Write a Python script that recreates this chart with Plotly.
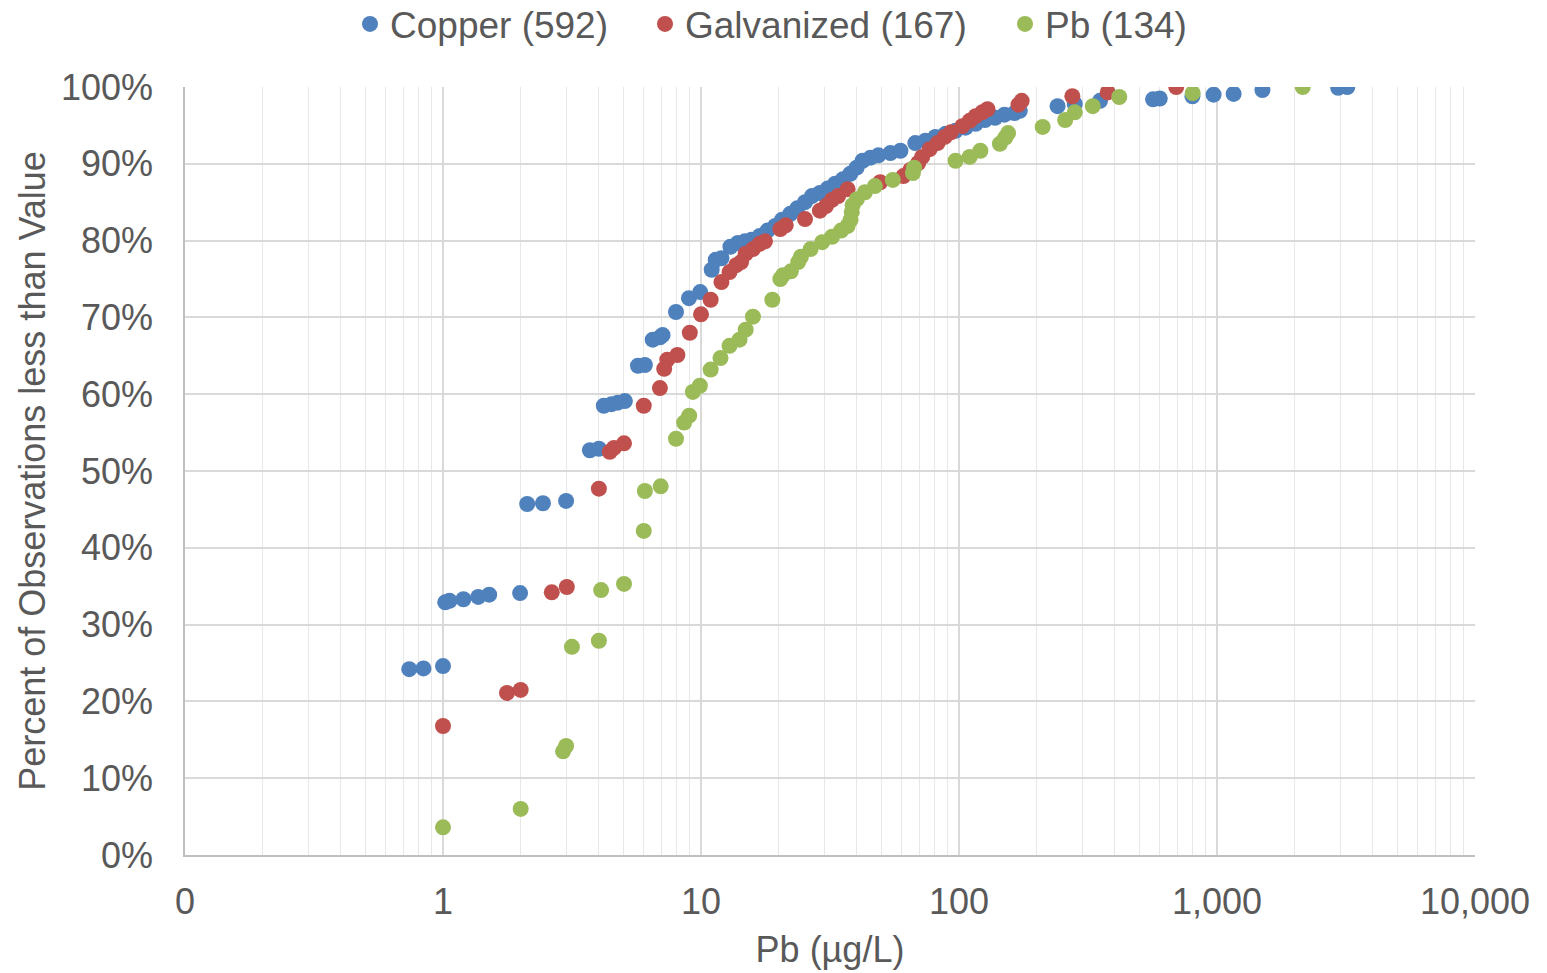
import plotly.graph_objects as go

# Copper series (Pb ug/L, percent of observations less than value)
copper_x = [0.74, 0.84, 1.0, 1.02, 1.06, 1.2, 1.37, 1.51, 1.99, 2.12, 2.44, 3.0, 3.71, 4.02,
            4.2, 4.5, 4.76, 5.07, 5.7, 6.06, 6.5, 6.93, 7.1, 8.0, 8.98, 9.93, 11.0, 11.4, 12.0,
            13.0, 13.9, 14.8, 15.7, 16.9, 18.1, 19.4, 20.6, 22.2, 23.6, 25.3, 26.9, 28.9, 31.0,
            33.1, 35.5, 37.9, 40.1, 42.3, 45.4, 48.7, 54.2, 59.3, 67.7, 74.1, 81.0, 88.7, 97.0,
            106, 116, 126, 138, 150, 164, 172, 241, 281, 352, 565, 600, 803, 970, 1160, 1500,
            2950, 3200]
copper_y = [24.2, 24.3, 24.6, 32.9, 33.1, 33.3, 33.6, 33.9, 34.1, 45.7, 45.8, 46.1, 52.7, 52.9,
            58.5, 58.7, 58.9, 59.1, 63.7, 63.8, 67.1, 67.4, 67.7, 70.7, 72.5, 73.3, 76.2, 77.5, 77.7,
            79.2, 79.7, 79.9, 80.1, 80.6, 81.3, 81.9, 82.7, 83.5, 84.2, 85.0, 85.8, 86.2, 86.8,
            87.4, 88.0, 88.7, 89.5, 90.4, 90.8, 91.1, 91.4, 91.7, 92.7, 93.0, 93.5, 93.9, 94.3,
            94.7, 95.2, 95.7, 96.0, 96.4, 96.6, 96.9, 97.5, 97.8, 98.2, 98.4, 98.5, 98.8, 99.0, 99.1, 99.6,
            99.9, 100.0]

galv_x = [1.0, 1.77, 2.0, 2.64, 3.02, 4.02, 4.43, 4.6, 5.03, 6.0, 6.93, 7.2, 7.4, 8.1, 9.05,
          10.0, 10.9, 12.0, 12.9, 13.7, 14.3, 14.9, 15.9, 16.9, 17.7, 20.3, 21.3, 25.3, 28.9,
          30.5, 32.2, 34.0, 37.0, 49.5, 60.9, 64.8, 69.5, 72.0, 77.0, 82.6, 88.1, 93.0, 103,
          110, 116, 123, 129, 170, 175, 275, 377, 695]
galv_y = [16.8, 21.1, 21.5, 34.2, 34.9, 47.7, 52.5, 53.0, 53.6, 58.5, 60.8, 63.3, 64.5, 65.1, 68.0,
          70.4, 72.3, 74.6, 75.9, 76.8, 77.2, 78.3, 78.9, 79.6, 79.9, 81.5, 82.0, 82.8, 83.9,
          84.5, 85.3, 85.8, 86.7, 87.6, 88.4, 89.2, 90.1, 90.9, 91.9, 92.7, 93.5, 94.1, 94.9,
          95.6, 96.2, 96.7, 97.1, 97.7, 98.2, 98.8, 99.3, 100.0]

pb_x = [1.0, 2.0, 2.92, 3.0, 3.16, 4.02, 4.1, 5.03, 6.0, 6.06, 6.98, 8.0, 8.6, 9.0, 9.3, 9.9,
        10.9, 11.9, 12.9, 14.1, 14.9, 15.9, 18.9, 20.3, 20.8, 22.3, 23.8, 24.4, 26.6, 29.5,
        32.2, 34.9, 37.0, 38.0, 38.4, 38.7, 40.2, 43.2, 47.2, 55.4, 66.3, 67.0, 97, 110, 121,
        144, 151, 155, 211, 258, 281, 330, 418, 805, 2150]
pb_y = [3.6, 6.0, 13.5, 14.2, 27.1, 27.9, 34.5, 35.3, 42.2, 47.4, 48.0, 54.2, 56.3, 57.2, 60.3, 61.1,
        63.2, 64.7, 66.3, 67.1, 68.4, 70.1, 72.3, 75.0, 75.5, 76.0, 77.2, 77.9, 78.9, 79.8,
        80.5, 81.3, 81.9, 82.7, 83.7, 84.6, 85.4, 86.3, 87.1, 87.9, 88.8, 89.5, 90.4, 90.9, 91.7,
        92.6, 93.4, 94.0, 94.8, 95.7, 96.7, 97.5, 98.7, 99.2, 100.0]

series_names = ["Copper (592)", "Galvanized (167)", "Pb (134)"]
series_colors = ["#4F81BD", "#C0504D", "#9BBB59"]

x_tickvals = [0.1, 1, 10, 100, 1000, 10000]
x_ticktext = ["0", "1", "10", "100", "1,000", "10,000"]
y_tickvals = [0, 10, 20, 30, 40, 50, 60, 70, 80, 90, 100]
y_ticktext = ["0%", "10%", "20%", "30%", "40%", "50%", "60%", "70%", "80%", "90%", "100%"]

minor_vals = [m * 10 ** e for e in range(-1, 4) for m in range(2, 10)]

font_col = "#595959"
W, H = 1547, 973
legend_ids = ["legend", "legend2", "legend3"]
legend_left_px = [350, 645, 1005]

fig = go.Figure()
for xs, ys, name, col, lid in zip([copper_x, galv_x, pb_x], [copper_y, galv_y, pb_y],
                                  series_names, series_colors, legend_ids):
    fig.add_trace(go.Scatter(x=xs, y=ys, mode="markers", name=name, legend=lid,
                             showlegend=True,
                             marker=dict(color=col, size=16, line=dict(width=0))))

legend_common = dict(orientation="h", xanchor="left", xref="container",
                     y=0.975, yanchor="middle", yref="container",
                     font=dict(size=37, color=font_col), itemwidth=30,
                     bgcolor="rgba(0,0,0,0)", visible=True)

fig.update_layout(
    width=W, height=H,
    showlegend=True,
    paper_bgcolor="white", plot_bgcolor="white",
    margin=dict(l=185, r=72, t=87, b=118, autoexpand=False),
    font=dict(family="Liberation Sans, Arial, sans-serif", color=font_col, size=36),
    legend=dict(x=legend_left_px[0] / W, **legend_common),
    legend2=dict(x=legend_left_px[1] / W, **legend_common),
    legend3=dict(x=legend_left_px[2] / W, **legend_common),
    xaxis=dict(type="log", range=[-1, 4], tickvals=x_tickvals, ticktext=x_ticktext,
               showgrid=True, gridcolor="#D9D9D9", gridwidth=1.5,
               showline=True, linecolor="#BFBFBF", linewidth=1.5,
               ticks="", ticklabelstandoff=14,
               tickfont=dict(size=36, color=font_col),
               minor=dict(tickvals=minor_vals, showgrid=True, gridcolor="#E8E8E8", gridwidth=1.3),
               title=dict(text="Pb (µg/L)", font=dict(size=36, color=font_col), standoff=16),
               zeroline=False),
    yaxis=dict(range=[0, 100], tickvals=y_tickvals, ticktext=y_ticktext,
               showgrid=True, gridcolor="#D9D9D9", gridwidth=1.5,
               showline=True, linecolor="#BFBFBF", linewidth=1.5,
               ticks="", ticklabelstandoff=23,
               tickfont=dict(size=36, color=font_col),
               title=dict(text="Percent of Observations less than Value",
                          font=dict(size=36, color=font_col), standoff=4),
               zeroline=False),
)

fig.write_html("out.html")
